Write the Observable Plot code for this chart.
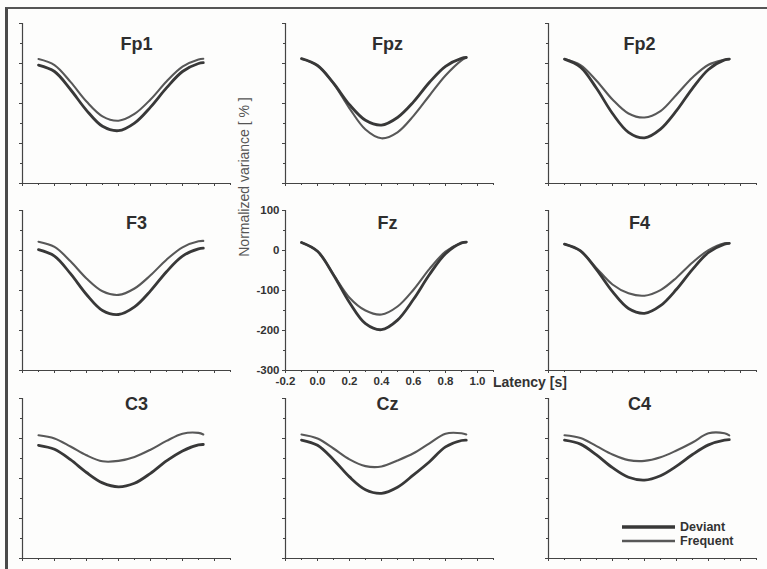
<!DOCTYPE html>
<html><head><meta charset="utf-8">
<script src="https://cdn.jsdelivr.net/npm/d3@7"></script>
<script src="https://cdn.jsdelivr.net/npm/@observablehq/plot@0.6"></script>
<style>
html,body{margin:0;padding:0;background:#fff;}
#fig{position:relative;width:767px;height:569px;overflow:hidden;background:#fdfdfc;font-family:"Liberation Sans",Arial,sans-serif;}
#frame{position:absolute;left:5px;top:7px;width:820px;height:620px;border-left:3px solid #4a4a4a;border-top:2px solid #555;}
.panel{position:absolute;}
#ylab{position:absolute;left:244px;top:177px;transform:translate(-50%,-50%) rotate(-90deg);white-space:nowrap;font-size:14px;color:#555;}
#xlab{position:absolute;left:493px;top:374px;white-space:nowrap;font-size:14px;font-weight:bold;color:#333;}
#legend{position:absolute;left:618px;top:518px;}
</style></head><body>
<div id="fig"><div id="frame"></div></div>
<script>
// ---- data ----
const latency = [-0.1, 0.0, 0.1, 0.2, 0.3, 0.4, 0.5, 0.6, 0.7, 0.8, 0.9, 0.93];
const channels = ["Fp1", "Fpz", "Fp2", "F3", "Fz", "F4", "C3", "Cz", "C4"];
const seriesNames = ["Deviant", "Frequent"];
const yMajorTicks = [-300, -200, -100, 0, 100];
const yMinorTicks = [-250, -150, -50, 50];
const xMajorTicks = [-0.2, 0.0, 0.2, 0.4, 0.6, 0.8, 1.0];
const xMinorTicks = [-0.1, 0.1, 0.3, 0.5, 0.7, 0.9, 1.1];

const fp1Deviant  = [-4, -20, -65, -117, -157, -168, -149, -109, -61, -20, 0, 2];
const fp1Frequent = [11, -4, -46, -95, -132, -143, -126, -90, -45, -8, 10, 12];
const fpzDeviant  = [12, -5, -49, -103, -142, -154, -135, -96, -47, -7, 13, 15];
const fpzFrequent = [12, -5, -50, -112, -165, -187, -172, -131, -80, -30, 8, 15];
const fp2Deviant  = [11, -9, -62, -125, -172, -186, -164, -118, -62, -15, 9, 11];
const fp2Frequent = [11, -4, -43, -90, -125, -135, -119, -78, -35, -3, 9, 11];
const f3Deviant   = [2, -14, -58, -110, -150, -160, -141, -101, -53, -14, 4, 6];
const f3Frequent  = [22, 9, -27, -70, -102, -111, -95, -62, -23, 8, 23, 24];
const fzDeviant   = [20, -2, -61, -130, -183, -198, -174, -122, -60, -8, 19, 21];
const fzFrequent  = [20, -2, -60, -118, -150, -160, -140, -98, -46, -3, 19, 21];
const f4Deviant   = [16, -1, -48, -103, -145, -157, -138, -97, -47, -5, 16, 18];
const f4Frequent  = [16, -1, -44, -85, -107, -113, -99, -68, -30, 1, 18, 18];
const c3Deviant   = [-17, -27, -53, -85, -111, -121, -112, -87, -56, -31, -16, -15];
const c3Frequent  = [8, 0, -20, -42, -57, -56, -46, -28, -6, 12, 14, 10];
const czDeviant   = [-4, -17, -53, -96, -128, -137, -122, -91, -58, -21, -5, -4];
const czFrequent  = [10, 0, -25, -52, -69, -70, -55, -37, -12, 12, 13, 10];
const c4Deviant   = [-4, -14, -41, -73, -97, -104, -93, -69, -40, -16, -4, -3];
const c4Frequent  = [8, 1, -19, -40, -54, -56, -47, -30, -10, 13, 13, 8];

const deviantSets  = [fp1Deviant, fpzDeviant, fp2Deviant, f3Deviant, fzDeviant, f4Deviant, c3Deviant, czDeviant, c4Deviant];
const frequentSets = [fp1Frequent, fpzFrequent, fp2Frequent, f3Frequent, fzFrequent, f4Frequent, c3Frequent, czFrequent, c4Frequent];

// ---- layout ----
const ML = 45, MR = 6, MT = 30, MB = 26, PW = 208, PH = 160;
const colX = [22, 285, 548];
const rowY = [23, 210, 398];
const titleDx = [114, 102, 91];
const titleDy = [26, 18, 11];
const axisColor = "#444";
const devColor = "#383838", freqColor = "#585858";
const fig = document.getElementById("fig");

channels.forEach((name, i) => {
  const col = i % 3, row = Math.floor(i / 3);
  const labeled = name === "Fz";
  const rows = latency.map((x, j) => ({x, dev: deviantSets[i][j], freq: frequentSets[i][j]}));
  const chart = Plot.plot({
    width: ML + PW + MR, height: MT + PH + MB,
    marginLeft: ML, marginRight: MR, marginTop: MT, marginBottom: MB,
    x: {domain: [-0.2, 1.1]},
    y: {domain: [-300, 100]},
    style: {fontFamily: "Liberation Sans, Arial, sans-serif", fontSize: "11.5px", fontWeight: "bold", color: "#333", background: "transparent", overflow: "visible"},
    marks: [
      Plot.ruleX([-0.2], {stroke: axisColor, strokeWidth: 1.2}),
      Plot.ruleY([-300], {stroke: axisColor, strokeWidth: 1.2}),
      Plot.axisY({ticks: yMajorTicks, tickSize: 3, tickPadding: 3, label: null, stroke: axisColor,
                  tickFormat: labeled ? (d => String(d)) : (() => "")}),
      Plot.axisY({ticks: yMinorTicks, tickSize: 2, label: null, stroke: axisColor, tickFormat: () => ""}),
      Plot.axisX({ticks: xMajorTicks, tickSize: 3, tickPadding: 3, label: null, stroke: axisColor,
                  tickFormat: labeled ? (d => d.toFixed(1)) : (() => "")}),
      Plot.axisX({ticks: xMinorTicks, tickSize: 2, label: null, stroke: axisColor, tickFormat: () => ""}),
      Plot.line(rows, {x: "x", y: "freq", stroke: freqColor, strokeWidth: 2.1, curve: "catmull-rom"}),
      Plot.line(rows, {x: "x", y: "dev", stroke: devColor, strokeWidth: 2.8, curve: "catmull-rom"}),
      Plot.text([name], {text: d => d, frameAnchor: "top-left", dx: titleDx[col], dy: titleDy[row],
                         textAnchor: "middle", lineAnchor: "bottom", fontSize: 18, fontWeight: "bold", fill: "#2e2e2e"})
    ]
  });
  chart.classList.add("panel");
  chart.style.left = (colX[col] - ML) + "px";
  chart.style.top = (rowY[row] - MT) + "px";
  fig.appendChild(chart);
});

// axis titles
const ylab = document.createElement("div");
ylab.id = "ylab"; ylab.textContent = "Normalized variance [ % ]";
fig.appendChild(ylab);
const xlab = document.createElement("div");
xlab.id = "xlab"; xlab.textContent = "Latency [s]";
fig.appendChild(xlab);

// legend
const ns = "http://www.w3.org/2000/svg";
const leg = document.createElementNS(ns, "svg");
leg.setAttribute("id", "legend");
leg.setAttribute("width", 140); leg.setAttribute("height", 32);
seriesNames.forEach((s, k) => {
  const y = 9 + k * 14;
  const ln = document.createElementNS(ns, "line");
  ln.setAttribute("x1", 4); ln.setAttribute("x2", 57); ln.setAttribute("y1", y); ln.setAttribute("y2", y);
  ln.setAttribute("stroke", k === 0 ? devColor : freqColor);
  ln.setAttribute("stroke-width", k === 0 ? 3.5 : 2.5);
  leg.appendChild(ln);
  const tx = document.createElementNS(ns, "text");
  tx.setAttribute("x", 62); tx.setAttribute("y", y + 4);
  tx.setAttribute("font-family", "Liberation Sans, Arial, sans-serif");
  tx.setAttribute("font-size", 12.5); tx.setAttribute("font-weight", "bold"); tx.setAttribute("fill", "#333");
  tx.textContent = s;
  leg.appendChild(tx);
});
fig.appendChild(leg);
</script>
</body></html>
